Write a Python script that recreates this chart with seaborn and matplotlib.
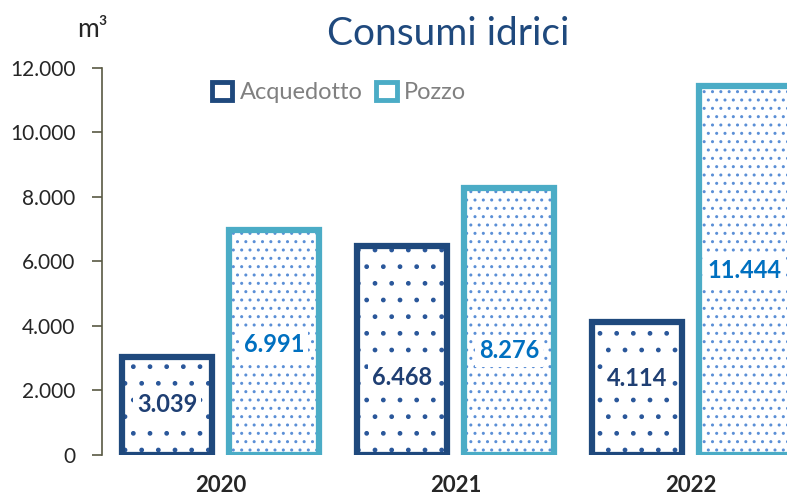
import pandas as pd
import matplotlib
matplotlib.use("Agg")
import matplotlib.pyplot as plt
from matplotlib.patches import Patch, Rectangle
import seaborn as sns

# data
years = ["2020", "2021", "2022"]
acquedotto = [3039, 6468, 4114]
pozzo = [6991, 8276, 11444]
series = ["Acquedotto", "Pozzo"]
y_ticks = [0, 2000, 4000, 6000, 8000, 10000, 12000]

df = pd.DataFrame({
    "anno": years * 2,
    "fonte": ["Acquedotto"] * 3 + ["Pozzo"] * 3,
    "m3": acquedotto + pozzo,
})

navy = "#1F497D"
light = "#4BACC6"
edge_colors = {"Acquedotto": navy, "Pozzo": light}
hatch_colors = {"Acquedotto": "#2A579A", "Pozzo": "#5B8FD6"}
label_colors = {"Acquedotto": "#1F3F73", "Pozzo": "#0070C0"}
hatches = {"Acquedotto": ".", "Pozzo": ".."}
# where the value label sits inside each bar (fraction of bar height)
label_frac = {"Acquedotto": [0.51, 0.37, 0.58], "Pozzo": [0.49, 0.39, 0.50]}

sns.set_style("white")
plt.rcParams["font.family"] = ["Lato", "DejaVu Sans"]
plt.rcParams["hatch.linewidth"] = 1.0

fig = plt.figure(figsize=(7.87, 4.96), dpi=100)
ax = fig.add_axes([0.1296, 0.0827, 0.8704, 0.7802])

sns.barplot(data=df, x="anno", y="m3", hue="fonte", hue_order=series,
            palette={"Acquedotto": "white", "Pozzo": "white"},
            width=0.91, gap=0.16, legend=False, ax=ax)

for cont, name in zip(ax.containers, series):
    vals = acquedotto if name == "Acquedotto" else pozzo
    for bar, v, f in zip(cont, vals, label_frac[name]):
        bar.set_facecolor("white")
        bar.set_linewidth(0)
        xy, w, h = bar.get_xy(), bar.get_width(), bar.get_height()
        # hatch layer, then the outline on top of it
        ax.add_patch(Rectangle(xy, w, h, fill=False, hatch=hatches[name],
                               edgecolor=hatch_colors[name], linewidth=0, zorder=3))
        ax.add_patch(Rectangle(xy, w, h, fill=False, edgecolor=edge_colors[name],
                               linewidth=4.5, zorder=4))
        ax.text(xy[0] + w / 2, v * f, f"{v:,}".replace(",", "."), ha="center",
                va="center", fontsize=17, fontweight="bold",
                color=label_colors[name], zorder=5,
                bbox=dict(facecolor="white", edgecolor="none", pad=3))

ax.set_xlim(-0.504, 2.41)
ax.set_ylim(0, 12000)
ax.set_yticks(y_ticks)
ax.set_yticklabels([f"{t:,}".replace(",", ".") for t in y_ticks], fontsize=15)
ax.tick_params(axis="y", left=True, length=7, width=1.2, color="#595943", pad=12)
ax.tick_params(axis="x", bottom=False, pad=11)
for lbl in ax.get_xticklabels():
    lbl.set_fontweight("bold")
    lbl.set_fontsize(16)
ax.set_xlabel("")
ax.set_ylabel("")
for s in ["top", "right", "bottom"]:
    ax.spines[s].set_visible(False)
ax.spines["left"].set_color("#595943")
ax.spines["left"].set_linewidth(1.2)

handles = [Patch(facecolor="white", edgecolor=edge_colors[n], linewidth=3.5, label=n)
           for n in series]
leg = ax.legend(handles=handles, loc="upper left", bbox_to_anchor=(0.13, 1.02),
                ncol=2, frameon=False, fontsize=17, handlelength=0.85,
                handleheight=0.85, handletextpad=0.3, columnspacing=0.6)
for t in leg.get_texts():
    t.set_color("#808080")

fig.text(0.570, 0.932, "Consumi idrici", ha="center", va="center",
         fontsize=28, color=navy)
fig.text(0.118, 0.94, "m³", ha="center", va="center", fontsize=19)

fig.savefig("out.png", dpi=100)
